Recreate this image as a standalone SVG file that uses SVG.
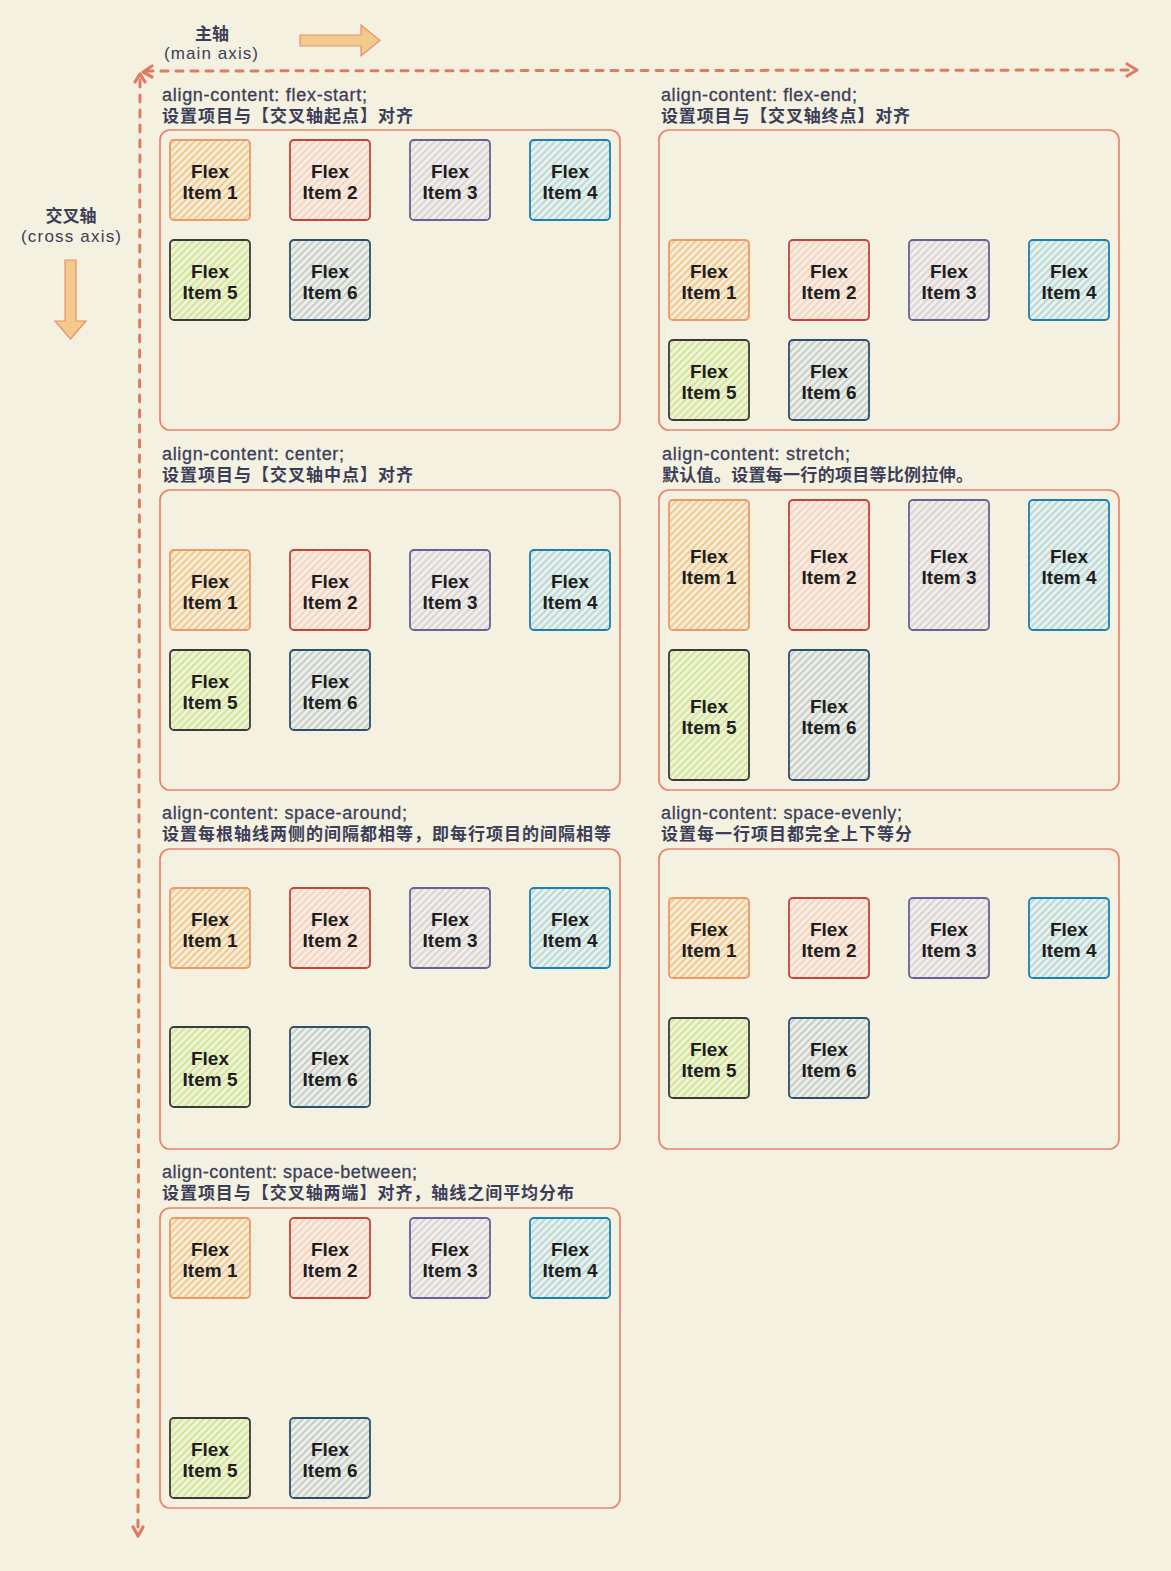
<svg xmlns="http://www.w3.org/2000/svg" width="1171" height="1571" viewBox="0 0 1171 1571">
<defs>
<style>
.bg{fill:#f5f1e0}
.box{fill:none;stroke:#e8836c;stroke-width:1.7}
.t1{font-family:"Liberation Sans","Noto Sans CJK SC",sans-serif;font-size:18px;fill:#3b3e58;stroke:#3b3e58;stroke-width:0.3}
.t2{font-family:"Liberation Sans","Noto Sans CJK SC",sans-serif;font-size:17px;font-weight:bold;fill:#3b3e58}
.it rect{stroke-width:1.8}
.it text{font-family:"Liberation Sans",sans-serif;font-size:19px;font-weight:bold;fill:#1e1e1e;text-anchor:middle}
.i1 rect{fill:url(#h1);stroke:#ee9a66}
.i2 rect{fill:url(#h2);stroke:#c4453b}
.i3 rect{fill:url(#h3);stroke:#6b6095}
.i4 rect{fill:url(#h4);stroke:#1b7fb3}
.i5 rect{fill:url(#h5);stroke:#3a3a3a}
.i6 rect{fill:url(#h6);stroke:#2e4f6e}
.axis{fill:none;stroke:#e07b5f;stroke-width:3;stroke-linecap:round;stroke-dasharray:7 8}
.ah{fill:none;stroke:#e07b5f;stroke-width:3.2;stroke-linecap:round;stroke-linejoin:round}
.blk{fill:#f3c98d;stroke:#e8916a;stroke-width:1.2}
.lab{font-family:"Liberation Sans","Noto Sans CJK SC",sans-serif;font-size:17px;fill:#3b3e58;text-anchor:middle}
</style>
<pattern id="h1" patternUnits="userSpaceOnUse" width="5" height="5" patternTransform="rotate(45)"><line x1="2.5" y1="0" x2="2.5" y2="5" stroke="#f5c080" stroke-width="1.9"/></pattern>
<pattern id="h2" patternUnits="userSpaceOnUse" width="5" height="5" patternTransform="rotate(45)"><line x1="2.5" y1="0" x2="2.5" y2="5" stroke="#f8cbc2" stroke-width="1.9"/></pattern>
<pattern id="h3" patternUnits="userSpaceOnUse" width="5" height="5" patternTransform="rotate(45)"><line x1="2.5" y1="0" x2="2.5" y2="5" stroke="#d3cde3" stroke-width="1.9"/></pattern>
<pattern id="h4" patternUnits="userSpaceOnUse" width="5" height="5" patternTransform="rotate(45)"><line x1="2.5" y1="0" x2="2.5" y2="5" stroke="#a3d7ea" stroke-width="1.9"/></pattern>
<pattern id="h5" patternUnits="userSpaceOnUse" width="5" height="5" patternTransform="rotate(45)"><line x1="2.5" y1="0" x2="2.5" y2="5" stroke="#c6e785" stroke-width="1.9"/></pattern>
<pattern id="h6" patternUnits="userSpaceOnUse" width="5" height="5" patternTransform="rotate(45)"><line x1="2.5" y1="0" x2="2.5" y2="5" stroke="#b6c8d4" stroke-width="1.9"/></pattern>
</defs>
<rect class="bg" x="0" y="0" width="1171" height="1571"/>

<g id="connectors">
<line class="axis" x1="146" y1="71" x2="1134" y2="70"/>
<polyline class="ah" points="1127,64 1137,70 1127,76"/>
<polyline class="ah" points="152,66 143,72 152,77"/>
<line class="axis" x1="140" y1="80" x2="138" y2="1530"/>
<polyline class="ah" points="135,82 140,74 145,82"/>
<polyline class="ah" points="133,1527 138,1536 143,1527"/>
</g>

<g id="main-axis-label">
<text class="lab" x="212" y="40" font-weight="bold">主轴</text>
<text class="lab" x="211" y="59" textLength="94">(main axis)</text>
<polygon id="main-axis-arrow" class="blk" points="300,35 361,35 361,25 380,40.5 361,56 361,46 300,46"/>
</g>
<g id="cross-axis-label">
<text class="lab" x="71" y="222" font-weight="bold">交叉轴</text>
<text class="lab" x="71" y="242" textLength="100">(cross axis)</text>
<polygon id="cross-axis-arrow" class="blk" points="65,260 76,260 76,321 86,321 70.5,339 55,321 65,321"/>
</g>

<!-- Panel 1: flex-start -->
<g id="panel-flex-start">
<text class="t1" x="162" y="101" textLength="205">align-content: flex-start;</text>
<text class="t2" x="162" y="122" textLength="251">设置项目与【交叉轴起点】对齐</text>
<rect class="box" x="160" y="130" width="460" height="300" rx="10"/>
<g id="p1-item1" class="it i1"><rect x="170" y="140" width="80" height="80" rx="4"/><text x="210" y="178">Flex</text><text x="210" y="199">Item 1</text></g>
<g id="p1-item2" class="it i2"><rect x="290" y="140" width="80" height="80" rx="4"/><text x="330" y="178">Flex</text><text x="330" y="199">Item 2</text></g>
<g id="p1-item3" class="it i3"><rect x="410" y="140" width="80" height="80" rx="4"/><text x="450" y="178">Flex</text><text x="450" y="199">Item 3</text></g>
<g id="p1-item4" class="it i4"><rect x="530" y="140" width="80" height="80" rx="4"/><text x="570" y="178">Flex</text><text x="570" y="199">Item 4</text></g>
<g id="p1-item5" class="it i5"><rect x="170" y="240" width="80" height="80" rx="4"/><text x="210" y="278">Flex</text><text x="210" y="299">Item 5</text></g>
<g id="p1-item6" class="it i6"><rect x="290" y="240" width="80" height="80" rx="4"/><text x="330" y="278">Flex</text><text x="330" y="299">Item 6</text></g>
</g>

<!-- Panel 2: flex-end -->
<g id="panel-flex-end">
<text class="t1" x="661" y="101" textLength="196">align-content: flex-end;</text>
<text class="t2" x="661" y="122" textLength="249">设置项目与【交叉轴终点】对齐</text>
<rect class="box" x="659" y="130" width="460" height="300" rx="10"/>
<g id="p2-item1" class="it i1"><rect x="669" y="240" width="80" height="80" rx="4"/><text x="709" y="278">Flex</text><text x="709" y="299">Item 1</text></g>
<g id="p2-item2" class="it i2"><rect x="789" y="240" width="80" height="80" rx="4"/><text x="829" y="278">Flex</text><text x="829" y="299">Item 2</text></g>
<g id="p2-item3" class="it i3"><rect x="909" y="240" width="80" height="80" rx="4"/><text x="949" y="278">Flex</text><text x="949" y="299">Item 3</text></g>
<g id="p2-item4" class="it i4"><rect x="1029" y="240" width="80" height="80" rx="4"/><text x="1069" y="278">Flex</text><text x="1069" y="299">Item 4</text></g>
<g id="p2-item5" class="it i5"><rect x="669" y="340" width="80" height="80" rx="4"/><text x="709" y="378">Flex</text><text x="709" y="399">Item 5</text></g>
<g id="p2-item6" class="it i6"><rect x="789" y="340" width="80" height="80" rx="4"/><text x="829" y="378">Flex</text><text x="829" y="399">Item 6</text></g>
</g>

<!-- Panel 3: center -->
<g id="panel-center">
<text class="t1" x="162" y="460" textLength="182">align-content: center;</text>
<text class="t2" x="162" y="481" textLength="251">设置项目与【交叉轴中点】对齐</text>
<rect class="box" x="160" y="490" width="460" height="300" rx="10"/>
<g id="p3-item1" class="it i1"><rect x="170" y="550" width="80" height="80" rx="4"/><text x="210" y="588">Flex</text><text x="210" y="609">Item 1</text></g>
<g id="p3-item2" class="it i2"><rect x="290" y="550" width="80" height="80" rx="4"/><text x="330" y="588">Flex</text><text x="330" y="609">Item 2</text></g>
<g id="p3-item3" class="it i3"><rect x="410" y="550" width="80" height="80" rx="4"/><text x="450" y="588">Flex</text><text x="450" y="609">Item 3</text></g>
<g id="p3-item4" class="it i4"><rect x="530" y="550" width="80" height="80" rx="4"/><text x="570" y="588">Flex</text><text x="570" y="609">Item 4</text></g>
<g id="p3-item5" class="it i5"><rect x="170" y="650" width="80" height="80" rx="4"/><text x="210" y="688">Flex</text><text x="210" y="709">Item 5</text></g>
<g id="p3-item6" class="it i6"><rect x="290" y="650" width="80" height="80" rx="4"/><text x="330" y="688">Flex</text><text x="330" y="709">Item 6</text></g>
</g>

<!-- Panel 4: stretch -->
<g id="panel-stretch">
<text class="t1" x="662" y="460" textLength="188">align-content: stretch;</text>
<text class="t2" x="662" y="481" textLength="311">默认值。设置每一行的项目等比例拉伸。</text>
<rect class="box" x="659" y="490" width="460" height="300" rx="10"/>
<g id="p4-item1" class="it i1"><rect x="669" y="500" width="80" height="130" rx="4"/><text x="709" y="563">Flex</text><text x="709" y="584">Item 1</text></g>
<g id="p4-item2" class="it i2"><rect x="789" y="500" width="80" height="130" rx="4"/><text x="829" y="563">Flex</text><text x="829" y="584">Item 2</text></g>
<g id="p4-item3" class="it i3"><rect x="909" y="500" width="80" height="130" rx="4"/><text x="949" y="563">Flex</text><text x="949" y="584">Item 3</text></g>
<g id="p4-item4" class="it i4"><rect x="1029" y="500" width="80" height="130" rx="4"/><text x="1069" y="563">Flex</text><text x="1069" y="584">Item 4</text></g>
<g id="p4-item5" class="it i5"><rect x="669" y="650" width="80" height="130" rx="4"/><text x="709" y="713">Flex</text><text x="709" y="734">Item 5</text></g>
<g id="p4-item6" class="it i6"><rect x="789" y="650" width="80" height="130" rx="4"/><text x="829" y="713">Flex</text><text x="829" y="734">Item 6</text></g>
</g>

<!-- Panel 5: space-around -->
<g id="panel-space-around">
<text class="t1" x="162" y="819" textLength="245">align-content: space-around;</text>
<text class="t2" x="162" y="840" textLength="449">设置每根轴线两侧的间隔都相等，即每行项目的间隔相等</text>
<rect class="box" x="160" y="849" width="460" height="300" rx="10"/>
<g id="p5-item1" class="it i1"><rect x="170" y="888" width="80" height="80" rx="4"/><text x="210" y="926">Flex</text><text x="210" y="947">Item 1</text></g>
<g id="p5-item2" class="it i2"><rect x="290" y="888" width="80" height="80" rx="4"/><text x="330" y="926">Flex</text><text x="330" y="947">Item 2</text></g>
<g id="p5-item3" class="it i3"><rect x="410" y="888" width="80" height="80" rx="4"/><text x="450" y="926">Flex</text><text x="450" y="947">Item 3</text></g>
<g id="p5-item4" class="it i4"><rect x="530" y="888" width="80" height="80" rx="4"/><text x="570" y="926">Flex</text><text x="570" y="947">Item 4</text></g>
<g id="p5-item5" class="it i5"><rect x="170" y="1027" width="80" height="80" rx="4"/><text x="210" y="1065">Flex</text><text x="210" y="1086">Item 5</text></g>
<g id="p5-item6" class="it i6"><rect x="290" y="1027" width="80" height="80" rx="4"/><text x="330" y="1065">Flex</text><text x="330" y="1086">Item 6</text></g>
</g>

<!-- Panel 6: space-evenly -->
<g id="panel-space-evenly">
<text class="t1" x="661" y="819" textLength="241">align-content: space-evenly;</text>
<text class="t2" x="661" y="840" textLength="251">设置每一行项目都完全上下等分</text>
<rect class="box" x="659" y="849" width="460" height="300" rx="10"/>
<g id="p6-item1" class="it i1"><rect x="669" y="898" width="80" height="80" rx="4"/><text x="709" y="936">Flex</text><text x="709" y="957">Item 1</text></g>
<g id="p6-item2" class="it i2"><rect x="789" y="898" width="80" height="80" rx="4"/><text x="829" y="936">Flex</text><text x="829" y="957">Item 2</text></g>
<g id="p6-item3" class="it i3"><rect x="909" y="898" width="80" height="80" rx="4"/><text x="949" y="936">Flex</text><text x="949" y="957">Item 3</text></g>
<g id="p6-item4" class="it i4"><rect x="1029" y="898" width="80" height="80" rx="4"/><text x="1069" y="936">Flex</text><text x="1069" y="957">Item 4</text></g>
<g id="p6-item5" class="it i5"><rect x="669" y="1018" width="80" height="80" rx="4"/><text x="709" y="1056">Flex</text><text x="709" y="1077">Item 5</text></g>
<g id="p6-item6" class="it i6"><rect x="789" y="1018" width="80" height="80" rx="4"/><text x="829" y="1056">Flex</text><text x="829" y="1077">Item 6</text></g>
</g>

<!-- Panel 7: space-between -->
<g id="panel-space-between">
<text class="t1" x="162" y="1178" textLength="255">align-content: space-between;</text>
<text class="t2" x="162" y="1199" textLength="412">设置项目与【交叉轴两端】对齐，轴线之间平均分布</text>
<rect class="box" x="160" y="1208" width="460" height="300" rx="10"/>
<g id="p7-item1" class="it i1"><rect x="170" y="1218" width="80" height="80" rx="4"/><text x="210" y="1256">Flex</text><text x="210" y="1277">Item 1</text></g>
<g id="p7-item2" class="it i2"><rect x="290" y="1218" width="80" height="80" rx="4"/><text x="330" y="1256">Flex</text><text x="330" y="1277">Item 2</text></g>
<g id="p7-item3" class="it i3"><rect x="410" y="1218" width="80" height="80" rx="4"/><text x="450" y="1256">Flex</text><text x="450" y="1277">Item 3</text></g>
<g id="p7-item4" class="it i4"><rect x="530" y="1218" width="80" height="80" rx="4"/><text x="570" y="1256">Flex</text><text x="570" y="1277">Item 4</text></g>
<g id="p7-item5" class="it i5"><rect x="170" y="1418" width="80" height="80" rx="4"/><text x="210" y="1456">Flex</text><text x="210" y="1477">Item 5</text></g>
<g id="p7-item6" class="it i6"><rect x="290" y="1418" width="80" height="80" rx="4"/><text x="330" y="1456">Flex</text><text x="330" y="1477">Item 6</text></g>
</g>
</svg>
